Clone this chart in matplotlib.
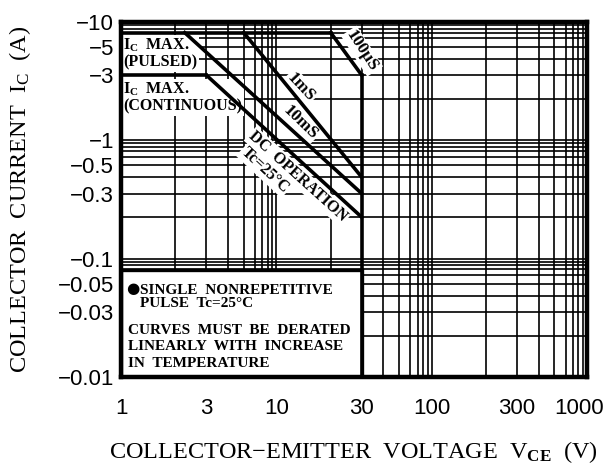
import numpy as np
import matplotlib
matplotlib.use("Agg")
import matplotlib.pyplot as plt
import matplotlib.transforms as mtransforms
from matplotlib.ticker import FixedLocator, NullFormatter
from matplotlib.patches import Rectangle

# ---------------- data ----------------
vce_pulsed = [1, 20]
ic_pulsed = [7, 7]
vce_100us = [20, 30]
ic_100us = [7, 3]
vce_cont = [1, 3]
ic_cont = [3, 3]
vce_1ms = [5, 30]
ic_1ms = [7, 0.4]
vce_10ms = [2.3, 30]
ic_10ms = [7, 0.3]
vce_dc = [3, 30]
ic_dc = [3, 0.2]
vce_max = [30, 30]
ic_vmax = [3, 0.01]

x_ticks = [1, 3, 10, 30, 100, 300, 1000]
x_ticklabels = ["1", "3", "10", "30", "100", "300", "1000"]
y_ticks = [10, 5, 3, 1, 0.5, 0.3, 0.1, 0.05, 0.03, 0.01]
y_ticklabels = ["\u221210", "\u22125", "\u22123", "\u22121", "\u22120.5", "\u22120.3",
                "\u22120.1", "\u22120.05", "\u22120.03", "\u22120.01"]

# ------------- log-paper scale (as printed in the original sheet) -------------
_M = np.array([1, 2, 3, 4, 5, 6, 7, 8, 9, 10], float)
_F = np.array([0, .35, .55, .688, .79, .862, .91, .945, .974, 1.0])


def fwd(v):
    v = np.asarray(v, float)
    with np.errstate(divide="ignore", invalid="ignore"):
        t = np.log10(np.where(v > 0, v, np.nan))
    n = np.floor(t)
    m = 10 ** (t - n)
    return n + np.interp(m, _M, _F)


def inv(u):
    u = np.asarray(u, float)
    n = np.floor(u)
    m = np.interp(u - n, _F, _M)
    return m * 10 ** n


plt.rcParams["mathtext.fontset"] = "custom"
plt.rcParams["mathtext.rm"] = "Liberation Serif"
plt.rcParams["mathtext.bf"] = "Liberation Serif:bold"
plt.rcParams["mathtext.it"] = "Liberation Serif:italic"

fig = plt.figure(figsize=(6.09, 4.66), dpi=100)
ax = fig.add_axes([0.1987, 0.191, 0.7652, 0.7618])
ax.set_xscale("function", functions=(fwd, inv))
ax.set_yscale("function", functions=(fwd, inv))
ax.set_xlim(1, 1000)
ax.set_ylim(0.01, 10)

xminor = [k * 10 ** n for n in range(0, 3) for k in range(1, 10)] + [1000]
yminor = [k * 10.0 ** n for n in range(-2, 1) for k in range(1, 10)] + [10]
ax.xaxis.set_major_locator(FixedLocator(x_ticks))
ax.yaxis.set_major_locator(FixedLocator(y_ticks))
ax.xaxis.set_minor_locator(FixedLocator(xminor))
ax.yaxis.set_minor_locator(FixedLocator(yminor))
ax.xaxis.set_minor_formatter(NullFormatter())
ax.yaxis.set_minor_formatter(NullFormatter())
ax.set_xticklabels(x_ticklabels, fontfamily="Liberation Sans", fontsize=16)
ax.set_yticklabels(y_ticklabels, fontfamily="Liberation Sans", fontsize=16)
ax.tick_params(which="both", length=0)
ax.tick_params(axis="x", pad=15)
ax.tick_params(axis="y", pad=5)
ax.grid(which="both", color="black", lw=1.2)
for s in ax.spines.values():
    s.set_linewidth(3.2)

# nudge the last x label inward like the original
last = ax.get_xticklabels()[-1]
last.set_transform(last.get_transform() +
                   mtransforms.ScaledTranslation(-8 / 100, 0, fig.dpi_scale_trans))

lw = 2.6
for xs, ys in [(vce_pulsed, ic_pulsed), (vce_100us, ic_100us), (vce_cont, ic_cont),
               (vce_1ms, ic_1ms), (vce_10ms, ic_10ms), (vce_dc, ic_dc), (vce_max, ic_vmax)]:
    ax.plot(xs, ys, color="black", lw=lw, solid_capstyle="projecting", zorder=2.6)

# note box
ax.add_patch(Rectangle((1, 0), 29, 0.301, transform=ax.get_xaxis_transform(),
                       facecolor="white", edgecolor="black", lw=2.4, zorder=1.9))

serif = "Liberation Serif"
bb = dict(facecolor="white", edgecolor="none", pad=1.0)
tk = dict(transform=ax.transAxes, fontfamily=serif, fontweight="bold", fontsize=11.5,
          zorder=1.95)

ax.text(0.005, 0.911, "I$_{\\mathbf{C}}$  MAX.\n(PULSED)", ha="left", va="center",
        linespacing=1.05, bbox=bb, **tk)
ax.text(0.005, 0.787, "I$_{\\mathbf{C}}$  MAX.\n(CONTINUOUS)", ha="left", va="center",
        linespacing=1.05, bbox=bb, **tk)

tk2 = dict(tk, fontsize=12.5)
ax.text(0.386, 0.817, "1mS", ha="center", va="center", rotation=-47, bbox=bb, **tk2)
ax.text(0.384, 0.716, "10mS", ha="center", va="center", rotation=-44, bbox=bb, **tk2)
ax.text(0.380, 0.564, "DC  OPERATION", ha="center", va="center", rotation=-42, bbox=bb, **tk)
ax.text(0.309, 0.583, "Tc=25\u00b0C", ha="center", va="center", rotation=-43, bbox=bb, **tk)
ax.text(0.517, 0.918, "100\u00b5S", ha="center", va="center", rotation=-57, bbox=bb, **tk2)

nk = dict(transform=ax.transAxes, fontweight="bold", fontsize=11, zorder=3,
          ha="left", va="center")
ax.text(0.012, 0.250, "\u25cf", fontfamily=["DejaVu Sans"], **nk)
ax.text(0.041, 0.245, "SINGLE  NONREPETITIVE", fontfamily=serif, **nk)
ax.text(0.041, 0.208, "PULSE  Tc=25\u00b0C", fontfamily=serif, **nk)
ax.text(0.015, 0.132, "CURVES  MUST  BE  DERATED", fontfamily=serif, **nk)
ax.text(0.015, 0.085, "LINEARLY  WITH  INCREASE", fontfamily=serif, **nk)
ax.text(0.015, 0.039, "IN  TEMPERATURE", fontfamily=serif, **nk)

fig.text(0.581, 0.030, r"COLLECTOR$-$EMITTER  VOLTAGE  V$_{\mathbf{CE}}$  (V)",
         fontfamily=serif, fontsize=17.5, ha="center", va="center")
fig.text(0.033, 0.572, r"COLLECTOR  CURRENT  I$_{\mathrm{C}}$  (A)",
         fontfamily=serif, fontsize=17.5, ha="center", va="center", rotation=90)

fig.savefig("out.png", dpi=100)
